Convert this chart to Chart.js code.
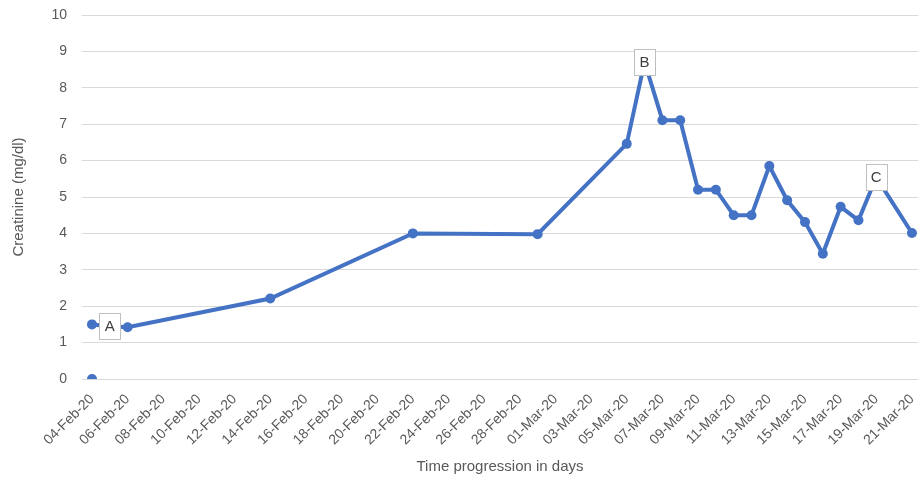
<!DOCTYPE html>
<html>
<head>
<meta charset="utf-8">
<script src="https://cdn.jsdelivr.net/npm/chart.js@4.4.1/dist/chart.umd.min.js"></script>
<style>
  html, body { margin: 0; padding: 0; background: #fff; }
  canvas { display: block; }
</style>
</head>
<body>
<canvas id="chart" width="923" height="483"></canvas>
<script>
// Creatinine readings (mg/dl) by date
const dates = ['2020-02-04', '2020-02-05', '2020-02-06', '2020-02-14', '2020-02-22', '2020-02-29',
  '2020-03-05', '2020-03-06', '2020-03-07', '2020-03-08', '2020-03-09', '2020-03-10', '2020-03-11',
  '2020-03-12', '2020-03-13', '2020-03-14', '2020-03-15', '2020-03-16', '2020-03-17', '2020-03-18',
  '2020-03-19', '2020-03-21'];
const creatinine = [1.5, 1.45, 1.42, 2.21, 4.0, 3.98,
  6.46, 8.71, 7.11, 7.11, 5.2, 5.2, 4.5,
  4.5, 5.85, 4.91, 4.31, 3.44, 4.73, 4.36,
  5.54, 4.01];

// lone marker at zero on the first day
const baselineDates = ['2020-02-04'];
const baselineValues = [0];

// annotated points
const labelDates = ['2020-02-05', '2020-03-06', '2020-03-19'];
const labelTexts = ['A', 'B', 'C'];

const yTicks = [0, 1, 2, 3, 4, 5, 6, 7, 8, 9, 10];

const startDate = '2020-02-04';
const endDate = '2020-03-21';
const MONTHS = ['Jan', 'Feb', 'Mar', 'Apr', 'May', 'Jun', 'Jul', 'Aug', 'Sep', 'Oct', 'Nov', 'Dec'];
const DAY = 86400000;

function dayOf(d) {
  return Math.round((Date.parse(d + 'T00:00:00Z') - Date.parse(startDate + 'T00:00:00Z')) / DAY);
}

function fmtDay(v) {
  const d = new Date(Date.parse(startDate + 'T00:00:00Z') + v * DAY);
  const dd = String(d.getUTCDate()).padStart(2, '0');
  return dd + '-' + MONTHS[d.getUTCMonth()] + '-' + String(d.getUTCFullYear()).slice(2);
}

const lastDay = dayOf(endDate);
const BLUE = '#4472C4';
const TEXT = '#595959';
const FONT = "'Liberation Sans', Arial, sans-serif";

const labelPlugin = {
  id: 'pointLabels',
  afterDatasetsDraw(chart) {
    const { ctx } = chart;
    const xs = chart.scales.x, ys = chart.scales.y;
    ctx.save();
    labelDates.forEach((d, i) => {
      const idx = dates.indexOf(d);
      const px = xs.getPixelForValue(dayOf(d));
      const py = ys.getPixelForValue(creatinine[idx]);
      const w = 21, h = 26;
      ctx.fillStyle = '#fff';
      ctx.fillRect(px - w / 2, py - h / 2, w, h);
      ctx.strokeStyle = '#bfbfbf';
      ctx.lineWidth = 1;
      ctx.strokeRect(Math.round(px - w / 2) + 0.5, Math.round(py - h / 2) + 0.5, w, h);
      ctx.fillStyle = '#404040';
      ctx.font = '15px ' + FONT;
      ctx.textAlign = 'center';
      ctx.textBaseline = 'middle';
      ctx.fillText(labelTexts[i], px, py + 1);
    });
    ctx.restore();
  }
};

new Chart(document.getElementById('chart'), {
  type: 'line',
  data: {
    datasets: [
      {
        data: dates.map((d, i) => ({ x: dayOf(d), y: creatinine[i] })),
        borderColor: BLUE,
        backgroundColor: BLUE,
        borderWidth: 4,
        pointRadius: 5,
        pointBorderWidth: 0,
        tension: 0,
      },
      {
        data: baselineDates.map((d, i) => ({ x: dayOf(d), y: baselineValues[i] })),
        borderColor: BLUE,
        backgroundColor: BLUE,
        showLine: false,
        pointRadius: 5,
        pointBorderWidth: 0,
      },
    ],
  },
  options: {
    responsive: false,
    animation: false,
    devicePixelRatio: 1,
    layout: { padding: { top: 15, right: 1, bottom: 0, left: 0 } },
    plugins: { legend: { display: false }, tooltip: { enabled: false } },
    scales: {
      x: {
        type: 'linear',
        min: -0.56,
        max: lastDay + 0.34,
        grid: { display: false },
        border: { display: false },
        ticks: {
          stepSize: 2,
          includeBounds: false,
          autoSkip: false,
          maxRotation: 45,
          minRotation: 45,
          padding: 4,
          color: TEXT,
          font: { family: FONT, size: 14 },
          callback: v => fmtDay(v),
        },
        title: {
          display: true,
          text: 'Time progression in days',
          color: TEXT,
          font: { family: FONT, size: 15 },
          padding: { top: 0, bottom: 7 },
        },
        afterFit: s => {
          s.height = 104;
          s.paddingLeft = 0;
          s.paddingRight = 0;
        },
      },
      y: {
        min: yTicks[0],
        max: yTicks[yTicks.length - 1],
        grid: { color: '#d9d9d9', lineWidth: 1, drawTicks: false },
        border: { display: false },
        afterBuildTicks: s => { s.ticks = yTicks.map(v => ({ value: v })); },
        ticks: {
          padding: 15,
          color: TEXT,
          font: { family: FONT, size: 14 },
        },
        title: {
          display: true,
          text: 'Creatinine (mg/dl)',
          color: TEXT,
          font: { family: FONT, size: 15 },
          padding: { top: 10, bottom: 0 },
        },
        afterFit: s => {
          s.width = 82;
          s.paddingTop = 0;
          s.paddingBottom = 0;
        },
      },
    },
  },
  plugins: [labelPlugin],
});
</script>
</body>
</html>
